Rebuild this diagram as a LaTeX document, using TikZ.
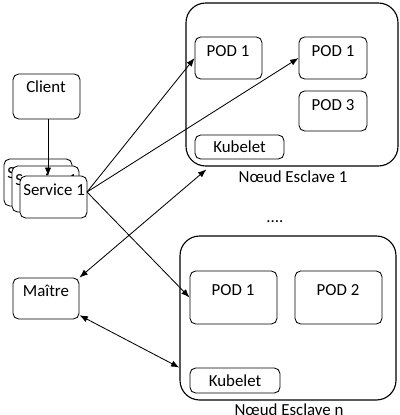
\documentclass[tikz,border=0pt]{standalone}
\usepackage{fontspec}
\setmainfont{Carlito}
\usetikzlibrary{arrows.meta,fit}

\begin{document}
\begin{tikzpicture}[
x=0.025cm, y=-0.025cm,
font=\fontsize{12}{14}\selectfont,
slavebox/.style={draw, rounded corners=14pt, line width=0.8pt, inner sep=0pt},
smallbox/.style={draw, rounded corners=4pt, line width=0.6pt, fill=white, inner sep=0pt},
lbl/.style={inner sep=0pt},
link/.style={line width=0.6pt, -{Latex[length=6pt,width=4.5pt]}},
bilink/.style={line width=0.6pt, {Latex[length=6pt,width=4.5pt]}-{Latex[length=6pt,width=4.5pt]}},
]
\useasboundingbox[fill=white] (0,0) rectangle (400,415);

%Esclave 1
\node[slavebox] (node1) [fit={(186,3) (398,166)}] {};
\node[smallbox] (pod11) [fit={(195,37) (262,79)}] {};
\node[smallbox] (pod12) [fit={(299,37) (367,79)}] {};
\node[smallbox] (pod13) [fit={(299,91) (367,131)}] {};
\node[smallbox] (kub1)  [fit={(195,135) (284,159)}] {};
\node[lbl] (t11)  at (228,51)  {POD 1};
\node[lbl] (t12)  at (333,51)  {POD 1};
\node[lbl] (t13)  at (333,105) {POD 3};
\node[lbl] (tk1)  at (kub1)    {Kubelet};
\node[lbl] (name1) at (293,177) {Nœud Esclave 1};

%Esclave n
\node[slavebox] (noden) [fit={(180,236) (396,400)}] {};
\node[smallbox] (podn1) [fit={(190,271) (277,324)}] {};
\node[smallbox] (podn2) [fit={(295,271) (382,324)}] {};
\node[smallbox] (kubn)  [fit={(190,368) (280,393)}] {};
\node[lbl] (tn1)  at (233,290) {POD 1};
\node[lbl] (tn2)  at (338,290) {POD 2};
\node[lbl] (tkn)  at (kubn)    {Kubelet};
\node[lbl] (namen) at (289,410) {Nœud Esclave n};

\node[lbl] (dots) at (275,222) {....};

%Client, services, maitre
\node[smallbox] (client) [fit={(13,74) (80,119)}] {};
\node[lbl] (tclient) at (46,87) {Client};
\node[smallbox] (svc1) [fit={(4,159) (72,206)}] {};
\node[lbl, anchor=west] (ts1) at (7,173) {Service 1};
\node[smallbox] (svc2) [fit={(12,166) (79,212)}] {};
\node[lbl, anchor=west] (ts2) at (15,180) {Service 1};
\node[smallbox] (svc3) [fit={(20,176) (87,218)}] {};
\node[lbl, anchor=west] (ts3) at (23,190) {Service 1};
\node[smallbox] (maitre) [fit={(13,278) (79,319)}] {};
\node[lbl] (tmaitre) at (46,291) {Maître};

%Lines
\coordinate (src) at (87,192);
\coordinate (k1) at ([xshift=0.525cm, yshift=-2pt]node1.south west);
\draw[link] (48,119) -- (48,176);
\draw[link] (src) -- (pod11.west);
\draw[link] (src) -- (pod12.west);
\draw[link] (src) -- (podn1.west);
\draw[bilink] (maitre.north east) -- (k1);
\draw[bilink] ([yshift=3pt]maitre.south east) -- (noden.west |- kubn.north);
\end{tikzpicture}
\end{document}
